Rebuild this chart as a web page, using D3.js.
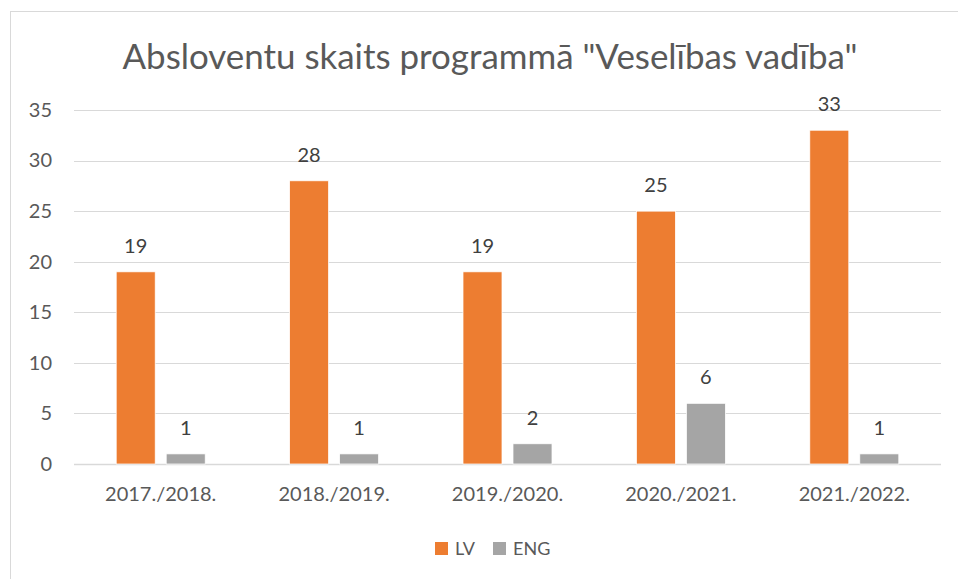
<!DOCTYPE html>
<html>
<head>
<meta charset="utf-8">
<script src="https://cdn.jsdelivr.net/npm/d3@7"></script>
<style>
  html, body { margin: 0; padding: 0; background: #fff; }
  svg { display: block; }
</style>
</head>
<body>
<div id="chart"></div>
<script>
// ---- DATA ----
const categories = ['2017./2018.', '2018./2019.', '2019./2020.', '2020./2021.', '2021./2022.'];
const seriesNames = ['LV', 'ENG'];
const lvValues = [19, 28, 19, 25, 33];
const engValues = [1, 1, 2, 6, 1];
const yTicks = [0, 5, 10, 15, 20, 25, 30, 35];

const colors = { LV: '#ED7D31', ENG: '#A5A5A5' };
const font = 'Lato, "Open Sans", Arial, sans-serif';
const textColor = '#595959';

const W = 958, H = 579;
const plot = { left: 74, right: 941, top: 110, bottom: 464 };

const svg = d3.select('#chart').append('svg')
  .attr('width', W).attr('height', H);

// ---- OUTER FRAME ----
svg.append('rect')
  .attr('x', 10.5).attr('y', 11.5)
  .attr('width', 1000).attr('height', 1000)
  .attr('fill', '#fff')
  .attr('stroke', '#d9d9d9').attr('stroke-width', 1);

// ---- TITLE ----
const title = svg.append('text')
  .attr('x', 490).attr('y', 69)
  .attr('text-anchor', 'middle')
  .style('font-family', font)
  .style('font-size', '33px')
  .style('fill', textColor)
  .text('Absloventu skaits programmā "Veselības vadība"');
// fit title width to the reference
const tw = title.node().getComputedTextLength();
title.style('font-size', (33 * 735 / tw) + 'px');

// ---- SCALES ----
const x0 = d3.scaleBand()
  .domain(categories)
  .range([plot.left, plot.right])
  .padding(0);

const x1 = d3.scaleBand()
  .domain(seriesNames)
  .range([0, x0.bandwidth()])
  .paddingInner(0.22)
  .paddingOuter(0.844);

const y = d3.scaleLinear()
  .domain([0, 35])
  .range([plot.bottom, plot.top]);

// ---- GRID LINES ----
svg.append('g')
  .selectAll('line').data(yTicks).join('line')
  .attr('x1', plot.left).attr('x2', plot.right)
  .attr('y1', d => Math.round(y(d)) + 0.5)
  .attr('y2', d => Math.round(y(d)) + 0.5)
  .attr('stroke', '#d9d9d9')
  .attr('stroke-width', d => d === 0 ? 1.5 : 1);

// ---- Y AXIS LABELS ----
const yAxis = svg.append('g')
  .attr('transform', `translate(${plot.left}, 0)`)
  .call(d3.axisLeft(y).tickValues(yTicks).tickSize(0).tickPadding(22))
  .call(g => g.select('.domain').remove());
yAxis.selectAll('text')
  .style('font-family', font)
  .style('font-size', '20px')
  .style('fill', textColor);

// ---- X AXIS LABELS ----
const xAxis = svg.append('g')
  .attr('transform', `translate(0, ${plot.bottom})`)
  .call(d3.axisBottom(x0).tickSize(0).tickPadding(23))
  .call(g => g.select('.domain').remove());
xAxis.selectAll('text')
  .style('font-family', font)
  .style('font-size', '20px')
  .style('fill', textColor);

// ---- BARS ----
const rows = categories.map((c, i) => ({
  cat: c,
  values: [
    { key: 'LV', value: lvValues[i] },
    { key: 'ENG', value: engValues[i] }
  ]
}));

const groups = svg.append('g')
  .selectAll('g').data(rows).join('g')
  .attr('transform', d => `translate(${x0(d.cat)}, 0)`);

groups.selectAll('rect').data(d => d.values).join('rect')
  .attr('x', d => x1(d.key))
  .attr('y', d => y(d.value))
  .attr('width', x1.bandwidth())
  .attr('height', d => y(0) - y(d.value))
  .attr('fill', d => colors[d.key])
  .attr('stroke', '#fff')
  .attr('stroke-width', 0.75);

// ---- DATA LABELS ----
groups.selectAll('text').data(d => d.values).join('text')
  .attr('x', d => x1(d.key) + x1.bandwidth() / 2)
  .attr('y', d => y(d.value) - 19)
  .attr('text-anchor', 'middle')
  .style('font-family', font)
  .style('font-size', '20px')
  .style('fill', '#404040')
  .text(d => d.value);

// ---- LEGEND ----
const legendX = [435, 493];
const legend = svg.append('g')
  .selectAll('g').data(seriesNames).join('g')
  .attr('transform', (d, i) => `translate(${legendX[i]}, 542)`);
legend.append('rect')
  .attr('width', 13).attr('height', 13)
  .attr('fill', d => colors[d]);
legend.append('text')
  .attr('x', 20).attr('y', 13)
  .style('font-family', font)
  .style('font-size', '18px')
  .style('fill', textColor)
  .text(d => d);
</script>
</body>
</html>
